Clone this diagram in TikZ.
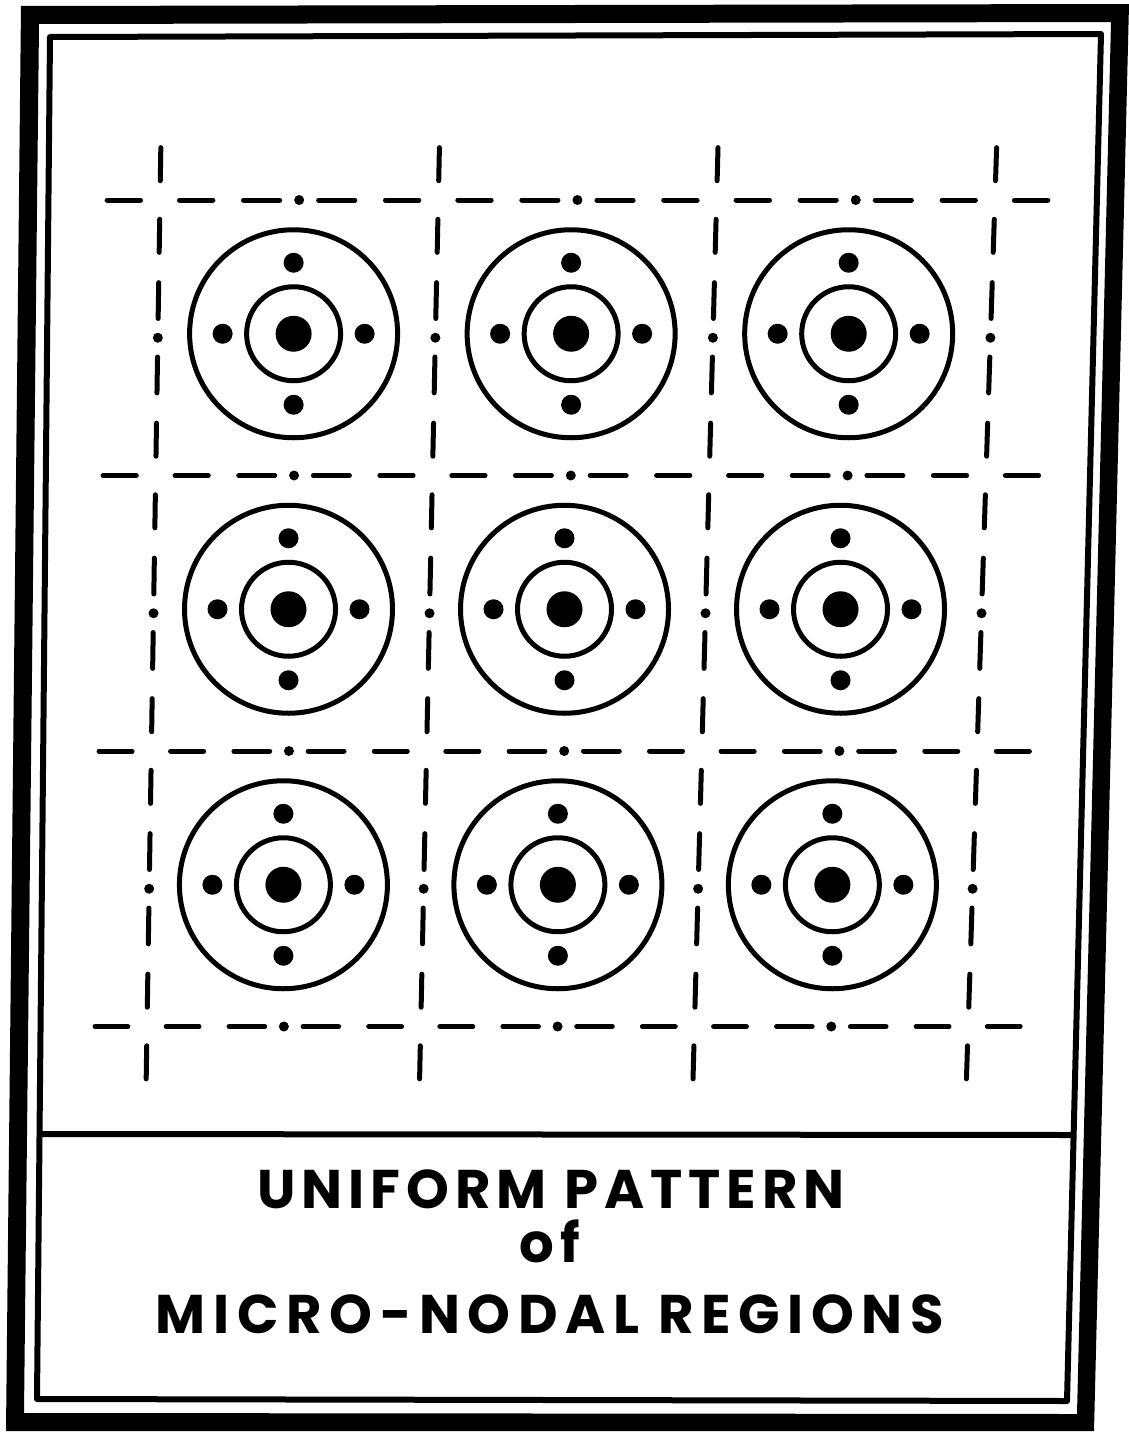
\documentclass[tikz,border=0pt]{standalone}
\usepackage{fontspec}
\newfontfamily\titlefont{Poppins}[LetterSpace=11]
\newfontfamily\titlefontwide{Poppins}[LetterSpace=14]
\usetikzlibrary{calc}

% the sheet is scanned a little askew: grid index (u,v) -> picture
\pgfmathdeclarefunction{gx}{2}{\pgfmathparse{160+278.3*(#1)-4.33*(#2)-1.53*(#1)*(#2)}}
\pgfmathdeclarefunction{gy}{2}{\pgfmathparse{200+275.5*(#2)}}

\begin{document}
\begin{tikzpicture}[x=0.2mm,y=-0.2mm,
	gridline/.style={line width=1mm,line cap=round},
	ring/.style={line width=1mm},
	frameline/.style={line width=1.2mm,line join=round},
	title/.style={font=\titlefont\bfseries\fontsize{31}{31}\selectfont,inner sep=0pt}]
				\fill[white] (0,0) rectangle (1129,1432);
				\useasboundingbox (0,0) rectangle (1129,1432);
				% heavy outer border and thin inner border
				\fill[even odd rule] (21,6) -- (1129,4) -- (1094,1431) -- (6,1431) -- cycle
					(39,24) -- (1111,22) -- (1077,1414) -- (24,1413) -- cycle;
				\draw[frameline] (50,37) -- (1101,34) -- (1067,1401) -- (37,1399) -- cycle;
				\draw[frameline] (39.5,1134) -- (1073.6,1135);
				% horizontal centre lines
				\foreach \v in {0,...,3}{
					\foreach \i in {0,1,2}{
						\foreach \a/\b in {0.07/0.19,0.30/0.43,0.57/0.70,0.81/0.93}
							\draw[gridline] ({gx(\i+\a,\v)},{gy(\i+\a,\v)}) -- ({gx(\i+\b,\v)},{gy(\i+\b,\v)});
						\fill ({gx(\i+0.5,\v)},{gy(\i+0.5,\v)}) circle (1mm);
					}
					\draw[gridline] ({gx(-0.19,\v)},{gy(-0.19,\v)}) -- ({gx(-0.07,\v)},{gy(-0.07,\v)});
					\draw[gridline] ({gx(3.07,\v)},{gy(3.07,\v)}) -- ({gx(3.19,\v)},{gy(3.19,\v)});
				}
				% vertical centre lines
				\foreach \u in {0,...,3}{
					\foreach \j in {0,1,2}{
						\foreach \a/\b in {0.07/0.19,0.30/0.43,0.57/0.70,0.81/0.93}
							\draw[gridline] ({gx(\u,\j+\a)},{gy(\u,\j+\a)}) -- ({gx(\u,\j+\b)},{gy(\u,\j+\b)});
						\fill ({gx(\u,\j+0.5)},{gy(\u,\j+0.5)}) circle (1mm);
					}
					\draw[gridline] ({gx(\u,-0.19)},{gy(\u,-0.19)}) -- ({gx(\u,-0.07)},{gy(\u,-0.07)});
					\draw[gridline] ({gx(\u,3.07)},{gy(\u,3.07)}) -- ({gx(\u,3.19)},{gy(\u,3.19)});
				}
				% one region in every cell
				\foreach \i in {0,1,2}{
					\foreach \j in {0,1,2}{
						\begin{scope}[shift={({gx(\i+0.5,\j+0.5)-3},{gy(\i+0.5,\j+0.5)-4})}]
							\draw[ring] (0,0) circle (20.8mm);
							\draw[ring] (0,0) circle (9.4mm);
							\fill (0,0) circle (3.6mm);
							\foreach \a in {0,90,180,270}
								\fill (\a:14.2mm) circle (2mm);
						\end{scope}
					}
				}
				\node[title,anchor=base] (line1) at (551,1208) {UNIFORM PATTERN};
				\node[title,anchor=base] (line2) at (550,1262) {of};
				\node[title,anchor=base,font=\titlefontwide\bfseries\fontsize{31}{31}\selectfont] (line3) at (550,1333) {MICRO-NODAL REGIONS};
\end{tikzpicture}
\end{document}
